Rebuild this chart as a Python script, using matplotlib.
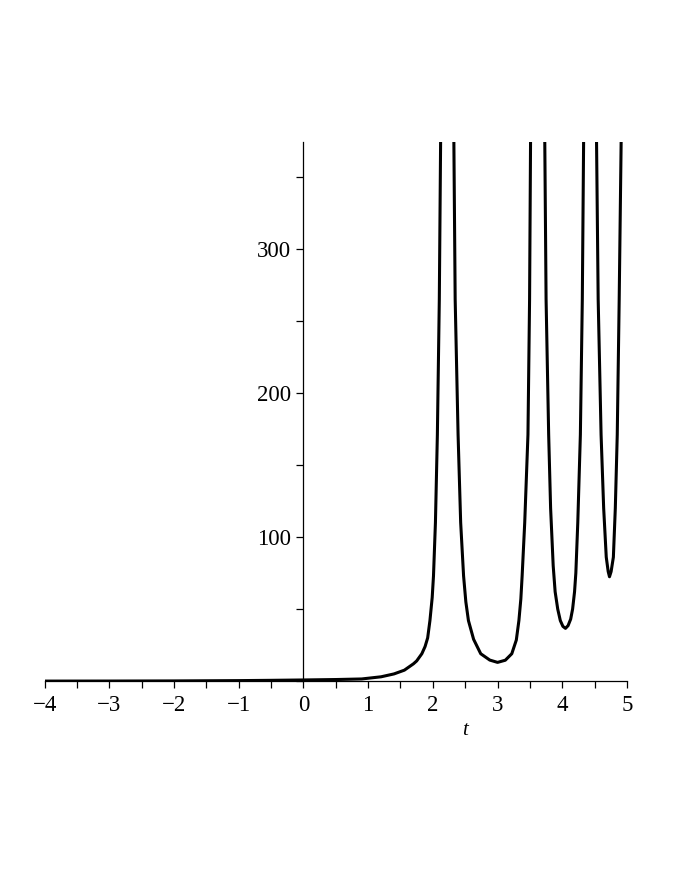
#bibliotecas
import matplotlib
matplotlib.use("Agg")
import matplotlib.pyplot as plt
from matplotlib.ticker import MultipleLocator

plt.rcParams['font.family'] = ['Liberation Serif', 'DejaVu Serif']

# valores (cada ramo entre dois polos)
t1 = [-4, -3, -2, -1, -0.5, 0, 0.5, 0.9, 1.2, 1.4, 1.56, 1.7, 1.75, 1.83, 1.88, 1.92, 1.955, 1.99, 2.01, 2.04,
      2.07, 2.1, 2.12, 2.125]
y1 = [0.02, 0.05, 0.14, 0.35, 0.55, 0.8, 1.1, 1.5, 3, 5, 7.6, 12, 14, 19, 24, 30, 42, 58, 73, 110,
      171, 265, 374, 600]

t2 = [2.32, 2.325, 2.345, 2.39, 2.43, 2.475, 2.51, 2.55, 2.63, 2.74, 2.88, 3.0, 3.12, 3.22, 3.29, 3.33, 3.36,
      3.38, 3.42, 3.47, 3.495, 3.51, 3.515]
y2 = [600, 374, 265, 171, 110, 73, 55, 42, 29, 19, 14.6, 13, 14.5, 19, 28.5, 42, 57,
      73, 110, 171, 265, 374, 600]

t3 = [3.725, 3.73, 3.75, 3.79, 3.82, 3.86, 3.89, 3.93, 3.97, 4.01, 4.05, 4.09, 4.13, 4.16, 4.19, 4.21, 4.24,
      4.28, 4.31, 4.33, 4.335]
y3 = [600, 374, 265, 171, 120, 80, 62, 50, 42, 38, 36.6, 38.5, 43, 50, 62, 75, 110,
      171, 265, 374, 600]

t4 = [4.525, 4.53, 4.555, 4.60, 4.64, 4.68, 4.71, 4.73, 4.755, 4.79, 4.82, 4.85, 4.88, 4.91, 4.915]
y4 = [600, 374, 265, 171, 120, 86, 76, 72.4, 76, 86, 120, 171, 265, 374, 600]

fig = plt.figure(figsize=(6.8, 8.8), dpi=100)
ax = fig.add_axes([0.0656, 0.226, 0.8564, 0.6126])

for t, y in [(t1, y1), (t2, y2), (t3, y3), (t4, y4)]:
    ax.plot(t, y, color='black', lw=2.2, solid_joinstyle='round')

ax.set_xlim(-4, 5)
ax.set_ylim(0, 374)

# eixos cruzando na origem
ax.spines['left'].set_position(('data', 0))
ax.spines['bottom'].set_position(('data', 0))
ax.spines['top'].set_visible(False)
ax.spines['right'].set_visible(False)
for s in ['left', 'bottom']:
    ax.spines[s].set_linewidth(0.9)

ax.xaxis.set_major_locator(MultipleLocator(1))
ax.xaxis.set_minor_locator(MultipleLocator(0.5))
ax.yaxis.set_major_locator(MultipleLocator(100))
ax.yaxis.set_minor_locator(MultipleLocator(50))
ax.set_yticks([100, 200, 300])
ax.set_xticks(range(-4, 6))
ax.set_xticklabels([str(v).replace('-', '\u2212') for v in range(-4, 6)])

ax.tick_params(which='both', direction='out', length=5, width=0.9, labelsize=16.5)
ax.tick_params(axis='x', pad=5)
ax.tick_params(axis='y', pad=4)

ax.text(2.5, -34, 't', style='italic', fontsize=15, ha='center', va='center')

fig.savefig('out.png', dpi=100)
